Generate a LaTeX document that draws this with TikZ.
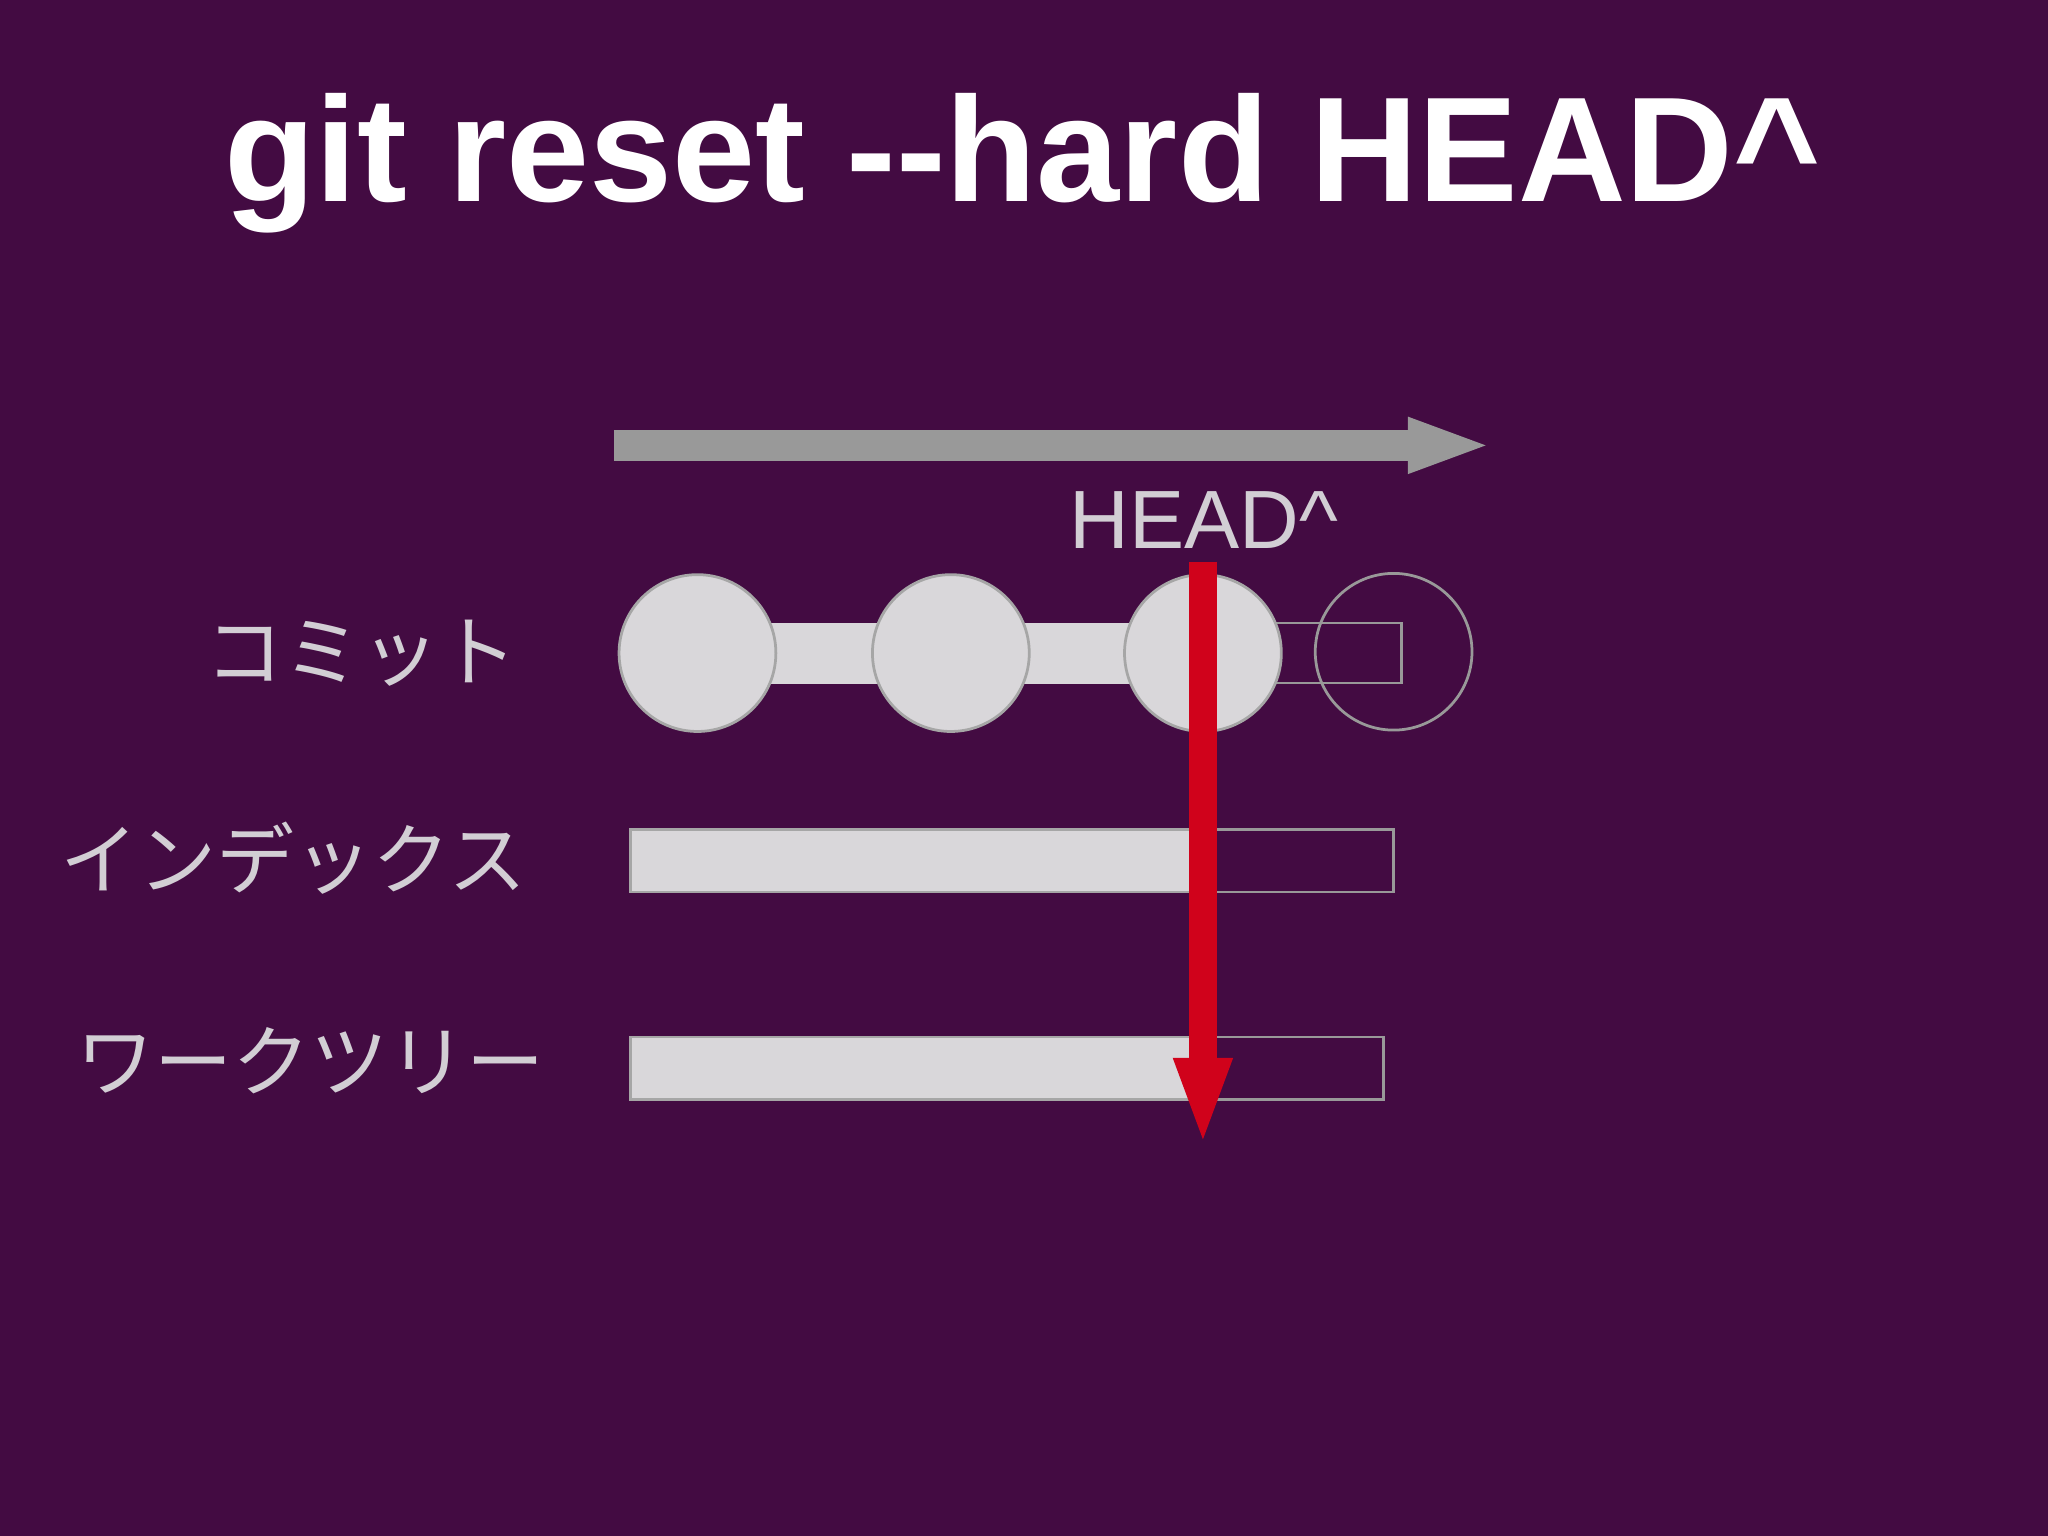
\documentclass[tikz,border=0pt]{standalone}
\usepackage{fontspec}
\setmainfont{Liberation Sans}
\newfontfamily\cjk{Noto Sans CJK JP}
\usetikzlibrary{arrows.meta}
\definecolor{bg}{HTML}{430B42}
\definecolor{lg}{HTML}{D9D7DA}
\definecolor{txt}{HTML}{D2CED4}
\definecolor{redc}{HTML}{D0021B}
\definecolor{grayarr}{HTML}{999999}
\begin{document}
\begin{tikzpicture}[x=0.01cm,y=-0.01cm,
  filled/.style={fill=lg,draw=gray!70,line width=0.6pt},
  hollow/.style={draw=gray!80,line width=0.6pt},
  lbl/.style={text=txt,font=\cjk\fontsize{17}{18}\selectfont,anchor=east,inner sep=0}]
\fill[bg] (0,0) rectangle (1568,1176);
\node[text=white,font=\bfseries\fontsize{32.5}{34}\selectfont] (title) at (783,125) {git reset -{}-hard HEAD\^{}};
\coordinate (ga) at (470,341); \coordinate (gb) at (1143,341);
\draw[grayarr,line width=0.24cm,-{Triangle[length=0.65cm,width=0.38cm]}] (ga) -- (gb);
\node[text=txt,font=\fontsize{18}{20}\selectfont,inner sep=0] (head) at (922,398) {HEAD\^{}};
% commits
\fill[lg] (590,477) rectangle (870,524);
\draw[hollow] (975,477) rectangle (1073,523);
\draw[hollow] (1067,499) circle (60);
\node[filled,circle,minimum size=1.2cm,inner sep=0] (c1) at (534,500) {};
\node[filled,circle,minimum size=1.2cm,inner sep=0] (c2) at (728,500) {};
\node[filled,circle,minimum size=1.2cm,inner sep=0] (c3) at (921,500) {};
% index
\draw[filled] (483,635) rectangle (912,683);
\draw[hollow] (912,635) rectangle (1067,683);
% worktree
\draw[filled] (483,794) rectangle (912,842);
\draw[hollow] (912,794) rectangle (1059,842);
\node[lbl] (l1) at (397,500) {コミット};
\node[lbl] (l2) at (404,657) {インデックス};
\node[lbl] (l3) at (418,812) {ワークツリー};
\coordinate (ra) at (921,430); \coordinate (rb) at (921,878);
\draw[redc,line width=0.22cm,-{Triangle[length=0.68cm,width=0.4cm]}] (ra) -- (rb);
\end{tikzpicture}
\end{document}
